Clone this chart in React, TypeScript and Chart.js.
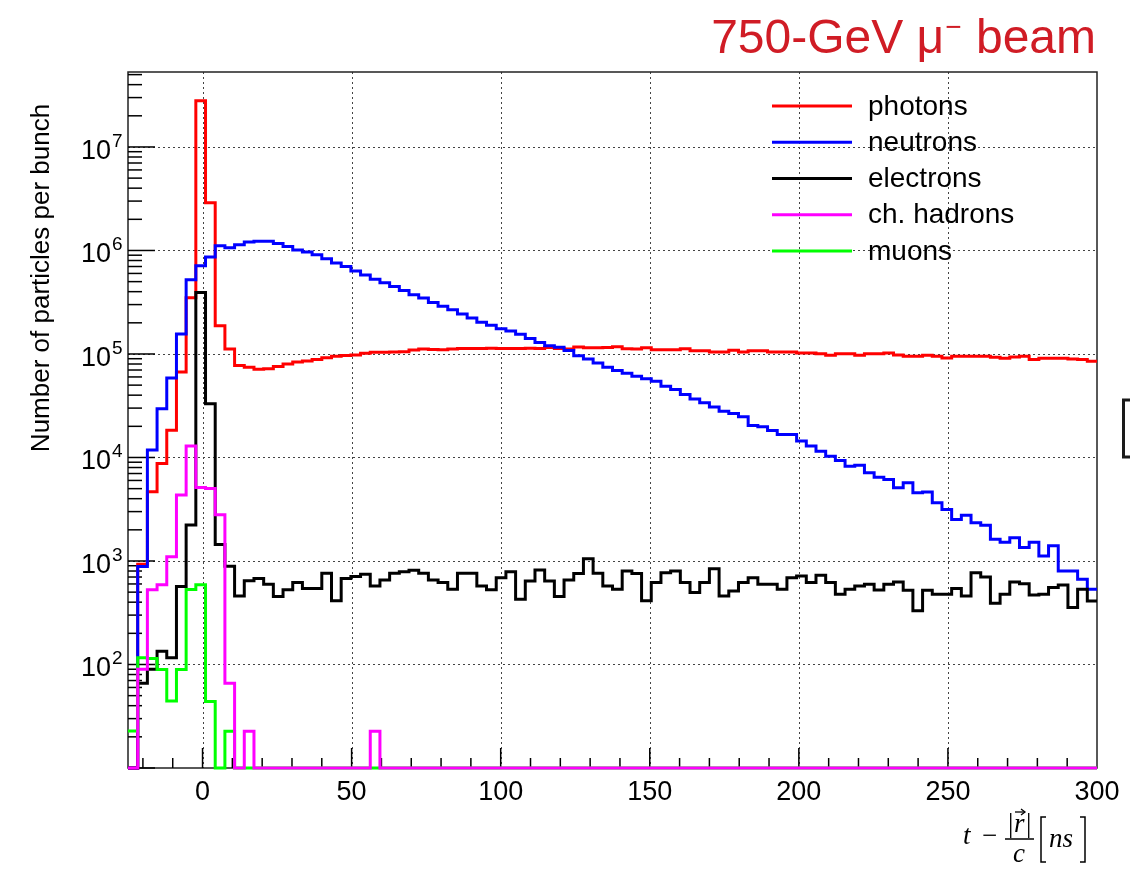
import React, { useEffect, useRef } from 'react';
import { Chart, registerables } from 'chart.js';

Chart.register(...registerables);

// ---- binning / axis ranges ----
const BIN_LOW = -25;
const BIN_WIDTH = 3.25;
const X_MIN = -25;
const X_MAX = 300;
const Y_MIN = 10;
const Y_MAX = 5.3e7;

// ---- series (counts per 3.25 ns bin, 100 bins from -25 ns to 300 ns) ----
const photons = [
  0, 930, 4670, 8760, 18300, 67000, 349000, 28000000, 2890000, 187000,
  112000, 77500, 74500, 71000, 72000, 75500, 80000, 83500, 85500, 88500,
  92000, 95000, 96500, 97800, 101500, 103700, 104000, 104500, 105200, 109100,
  111600, 110500, 110000, 111600, 113200, 113000, 113200, 113500, 113200, 113000,
  113200, 113400, 113200, 115700, 113200, 111600, 116600, 115000, 114900, 115700,
  117400, 112400, 111600, 114900, 110100, 110100, 110100, 112600, 107700, 107700,
  104500, 104500, 108500, 104500, 107700, 107700, 104500, 104500, 104500, 102200,
  102200, 100700, 97100, 100700, 100700, 97100, 100700, 100700, 102200, 97800,
  94900, 94900, 97100, 94900, 91500, 94900, 94900, 94900, 94900, 92900,
  90800, 93600, 94900, 88200, 90800, 90800, 90800, 89500, 88200, 85000,
];

const neutrons = [
  0, 885, 11800, 29600, 58500, 156000, 520000, 710000, 865000, 1110000,
  1065000, 1135000, 1205000, 1230000, 1230000, 1170000, 1090000, 1010000, 965000, 910000,
  830000, 755000, 700000, 635000, 578000, 526000, 489000, 448000, 410000, 373000,
  347000, 315000, 289000, 268000, 244000, 223000, 203000, 189000, 175000, 167000,
  155000, 141000, 129000, 120000, 116000, 108000, 96400, 89600, 82000, 74600,
  69300, 65000, 61000, 57500, 54500, 48700, 45300, 40500, 36800, 33700,
  30800, 28000, 26600, 24700, 20400, 19800, 18200, 16700, 16700, 14400,
  12900, 11500, 10300, 9350, 8240, 8430, 7110, 6460, 6140, 5090,
  5700, 4560, 4630, 3660, 3150, 2520, 2760, 2340, 2220, 1620,
  1520, 1680, 1350, 1520, 1120, 1400, 800, 800, 665, 533,
];

const electrons = [
  0, 66, 90, 134, 116, 568, 2230, 393000, 33100, 1440,
  890, 460, 645, 676, 596, 453, 526, 618, 542, 542,
  760, 412, 676, 707, 745, 574, 656, 760, 789, 813,
  760, 656, 618, 533, 760, 760, 574, 526, 690, 789,
  428, 641, 819, 641, 453, 656, 755, 1052, 760, 574,
  533, 801, 755, 412, 618, 771, 801, 618, 495, 618,
  843, 460, 514, 618, 690, 596, 596, 533, 690, 716,
  618, 727, 618, 477, 533, 574, 596, 525, 596, 627,
  521, 330, 521, 477, 477, 541, 460, 771, 701, 391,
  477, 627, 604, 470, 477, 553, 586, 355, 533, 411,
];

const chHadrons = [
  0, 90, 527, 589, 1100, 4340, 12900, 5140, 5020, 2790,
  66, 0, 22.6, 0, 0, 0, 0, 0, 0, 0,
  0, 0, 0, 0, 0, 22.6, 0, 0, 0, 0,
  0, 0, 0, 0, 0, 0, 0, 0, 0, 0,
  0, 0, 0, 0, 0, 0, 0, 0, 0, 0,
  0, 0, 0, 0, 0, 0, 0, 0, 0, 0,
  0, 0, 0, 0, 0, 0, 0, 0, 0, 0,
  0, 0, 0, 0, 0, 0, 0, 0, 0, 0,
  0, 0, 0, 0, 0, 0, 0, 0, 0, 0,
  0, 0, 0, 0, 0, 0, 0, 0, 0, 0,
];

const muons = [
  22.8, 116, 114, 89.5, 44.4, 89.5, 530, 590, 44, 0,
  22.6, 0, 0, 0, 0, 0, 0, 0, 0, 0,
  0, 0, 0, 0, 0, 0, 0, 0, 0, 0,
  0, 0, 0, 0, 0, 0, 0, 0, 0, 0,
  0, 0, 0, 0, 0, 0, 0, 0, 0, 0,
  0, 0, 0, 0, 0, 0, 0, 0, 0, 0,
  0, 0, 0, 0, 0, 0, 0, 0, 0, 0,
  0, 0, 0, 0, 0, 0, 0, 0, 0, 0,
  0, 0, 0, 0, 0, 0, 0, 0, 0, 0,
  0, 0, 0, 0, 0, 0, 0, 0, 0, 0,
];

const seriesLabels = ['photons', 'neutrons', 'electrons', 'ch. hadrons', 'muons'];
const seriesColors = ['#ff0000', '#0000ff', '#000000', '#ff00ff', '#00ff00'];
const seriesDrawOrder = [4, 3, 2, 0, 1]; // lower = drawn on top

const xTickLabels = [0, 50, 100, 150, 200, 250, 300];
const xMinorStep = 10;
const yDecades = [2, 3, 4, 5, 6, 7];
const titleMain = '750-GeV μ';
const titleSup = '−';
const titleTail = ' beam';
const yTitle = 'Number of particles per bunch';

const SANS = '"Liberation Sans", Arial, Helvetica, sans-serif';
const SERIF = '"Liberation Serif", "Times New Roman", serif';

function histogramPoints(values: number[]) {
  const pts = values.map((v, k) => ({ x: BIN_LOW + k * BIN_WIDTH, y: v > 0 ? v : Y_MIN }));
  pts.push({ x: BIN_LOW + values.length * BIN_WIDTH, y: pts[pts.length - 1].y });
  return pts;
}

const rootStyle = {
  id: 'rootStyle',
  beforeDatasetsDraw(chart: any) {
    const { ctx, chartArea: a, scales } = chart;
    const xs = scales.x;
    const ys = scales.y;
    ctx.save();
    // dotted grid
    ctx.strokeStyle = '#444';
    ctx.lineWidth = 1;
    ctx.setLineDash([2, 3]);
    for (const v of xTickLabels) {
      if (v >= X_MAX) continue;
      const px = Math.round(xs.getPixelForValue(v)) + 0.5;
      ctx.beginPath();
      ctx.moveTo(px, a.top);
      ctx.lineTo(px, a.bottom);
      ctx.stroke();
    }
    for (const d of yDecades) {
      const py = Math.round(ys.getPixelForValue(Math.pow(10, d))) + 0.5;
      ctx.beginPath();
      ctx.moveTo(a.left, py);
      ctx.lineTo(a.right, py);
      ctx.stroke();
    }
    ctx.setLineDash([]);
    // frame
    ctx.strokeStyle = '#222';
    ctx.lineWidth = 1.5;
    ctx.strokeRect(a.left, a.top, a.right - a.left, a.bottom - a.top);
    // y ticks (inside)
    ctx.strokeStyle = '#000';
    ctx.lineWidth = 1.5;
    for (let d = 1; d <= 7; d++) {
      for (let m = 1; m <= 9; m++) {
        const v = m * Math.pow(10, d);
        if (v < Y_MIN || v > Y_MAX) continue;
        const py = ys.getPixelForValue(v);
        const len = m === 1 ? 27 : 14;
        ctx.beginPath();
        ctx.moveTo(a.left, py);
        ctx.lineTo(a.left + len, py);
        ctx.stroke();
      }
    }
    // x ticks (inside)
    for (let v = -20; v < X_MAX; v += xMinorStep) {
      const px = xs.getPixelForValue(v);
      const len = v % 50 === 0 ? 20 : 10;
      ctx.beginPath();
      ctx.moveTo(px, a.bottom);
      ctx.lineTo(px, a.bottom - len);
      ctx.stroke();
    }
    ctx.restore();
  },
  afterDatasetsDraw(chart: any) {
    const { ctx, scales } = chart;
    const xs = scales.x;
    const ys = scales.y;
    ctx.save();
    ctx.fillStyle = '#000';
    // x tick labels
    ctx.font = `27px ${SANS}`;
    ctx.textAlign = 'center';
    ctx.textBaseline = 'alphabetic';
    for (const v of xTickLabels) {
      ctx.fillText(String(v), xs.getPixelForValue(v), 800);
    }
    // y tick labels 10^n
    for (const d of yDecades) {
      const py = ys.getPixelForValue(Math.pow(10, d));
      ctx.font = `27px ${SANS}`;
      ctx.textAlign = 'right';
      ctx.fillText('10', 111, py + 12);
      ctx.font = `19px ${SANS}`;
      ctx.textAlign = 'left';
      ctx.fillText(String(d), 112, py);
    }
    // y title
    ctx.save();
    ctx.translate(49, 278);
    ctx.rotate(-Math.PI / 2);
    ctx.font = `26px ${SANS}`;
    ctx.textAlign = 'center';
    ctx.fillText(yTitle, 0, 0);
    ctx.restore();
    // x title: t - |r|/c [ns]
    ctx.textAlign = 'left';
    ctx.font = `italic 27px ${SERIF}`;
    ctx.fillText('t', 963, 844);
    ctx.font = `27px ${SERIF}`;
    ctx.fillText('−', 982, 844);
    ctx.fillText('|', 1008, 832);
    ctx.font = `italic 27px ${SERIF}`;
    ctx.fillText('r', 1014, 832);
    ctx.font = `27px ${SERIF}`;
    ctx.fillText('|', 1026, 832);
    ctx.strokeStyle = '#000';
    ctx.lineWidth = 1.3;
    ctx.beginPath();
    ctx.moveTo(1015, 812);
    ctx.lineTo(1025, 812);
    ctx.stroke();
    ctx.beginPath();
    ctx.moveTo(1021, 809);
    ctx.lineTo(1025, 812);
    ctx.lineTo(1021, 815);
    ctx.stroke();
    ctx.lineWidth = 1.5;
    ctx.beginPath();
    ctx.moveTo(1005, 839);
    ctx.lineTo(1034, 839);
    ctx.stroke();
    ctx.font = `italic 27px ${SERIF}`;
    ctx.textAlign = 'center';
    ctx.fillText('c', 1019, 862);
    ctx.textAlign = 'left';
    ctx.lineWidth = 1.5;
    ctx.beginPath();
    ctx.moveTo(1046, 817);
    ctx.lineTo(1041, 817);
    ctx.lineTo(1041, 862);
    ctx.lineTo(1046, 862);
    ctx.stroke();
    ctx.fillText('ns', 1049, 847);
    ctx.beginPath();
    ctx.moveTo(1080, 817);
    ctx.lineTo(1085, 817);
    ctx.lineTo(1085, 862);
    ctx.lineTo(1080, 862);
    ctx.stroke();
    // legend
    const legendY = [106, 142.3, 178.5, 214.7, 250.9];
    ctx.font = `28px ${SANS}`;
    ctx.textBaseline = 'middle';
    ctx.textAlign = 'left';
    seriesLabels.forEach((lab, i) => {
      ctx.strokeStyle = seriesColors[i];
      ctx.lineWidth = 3;
      ctx.beginPath();
      ctx.moveTo(772, legendY[i]);
      ctx.lineTo(852, legendY[i]);
      ctx.stroke();
      ctx.fillStyle = '#000';
      ctx.fillText(lab, 868, legendY[i] + 1);
    });
    // title
    ctx.textBaseline = 'alphabetic';
    ctx.fillStyle = '#d01c25';
    ctx.font = `48px ${SANS}`;
    const w1 = ctx.measureText(titleMain).width;
    const w3 = ctx.measureText(titleTail).width;
    ctx.font = `28px ${SANS}`;
    const w2 = ctx.measureText(titleSup).width;
    const right = 1096;
    const x0 = right - (w1 + w2 + w3 + 2);
    ctx.font = `48px ${SANS}`;
    ctx.fillText(titleMain, x0, 53);
    ctx.font = `28px ${SANS}`;
    ctx.fillText(titleSup, x0 + w1 + 1, 36);
    ctx.font = `48px ${SANS}`;
    ctx.fillText(titleTail, x0 + w1 + w2 + 2, 53);
    // neighbouring element edge at right border
    ctx.strokeStyle = '#1a1a1a';
    ctx.lineWidth = 3;
    ctx.beginPath();
    ctx.moveTo(1131, 400);
    ctx.lineTo(1123.5, 400);
    ctx.lineTo(1123.5, 457);
    ctx.lineTo(1131, 457);
    ctx.stroke();
    ctx.restore();
  },
};

export default function App() {
  const canvasRef = useRef<HTMLCanvasElement | null>(null);

  useEffect(() => {
    const canvas = canvasRef.current;
    if (!canvas) return;
    const all = [photons, neutrons, electrons, chHadrons, muons];
    const chart = new Chart(canvas, {
      type: 'line',
      data: {
        datasets: all.map((vals, i) => ({
          label: seriesLabels[i],
          data: histogramPoints(vals),
          borderColor: seriesColors[i],
          backgroundColor: seriesColors[i],
          borderWidth: 3,
          pointRadius: 0,
          fill: false,
          stepped: 'before' as const,
          tension: 0,
          order: seriesDrawOrder[i],
          borderJoinStyle: 'miter' as const,
          clip: 4,
        })),
      },
      options: {
        animation: false,
        responsive: false,
        devicePixelRatio: 1,
        events: [],
        layout: { padding: { left: 128, top: 72, right: 33, bottom: 103 } },
        scales: {
          x: { type: 'linear', min: X_MIN, max: X_MAX, display: false },
          y: { type: 'logarithmic', min: Y_MIN, max: Y_MAX, display: false },
        },
        plugins: {
          legend: { display: false },
          tooltip: { enabled: false },
          title: { display: false },
        },
      },
      plugins: [rootStyle],
    });
    return () => chart.destroy();
  }, []);

  return (
    <div style={{ position: 'absolute', left: 0, top: 0, width: 1130, height: 871, background: '#fff' }}>
      <canvas ref={canvasRef} width={1130} height={871} style={{ display: 'block' }} />
    </div>
  );
}
